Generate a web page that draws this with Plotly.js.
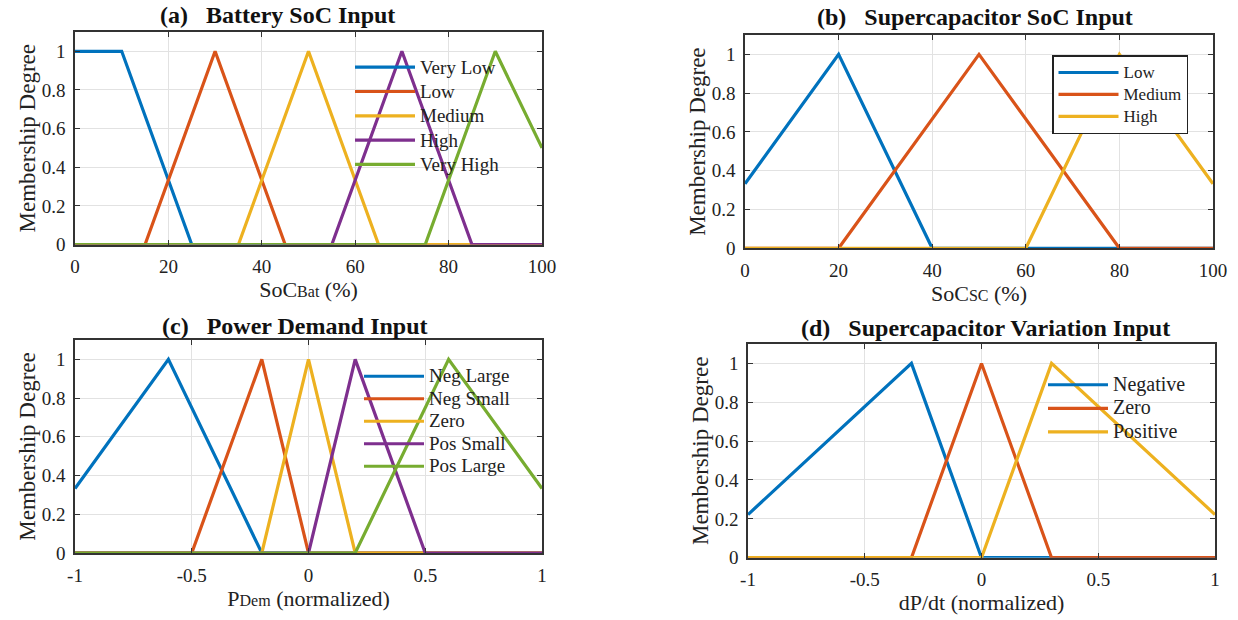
<!DOCTYPE html>
<html><head><meta charset="utf-8">
<script src="https://cdn.plot.ly/plotly-3.0.1.min.js"></script>
<style>html,body{margin:0;padding:0;background:#fff}#chart{width:1238px;height:620px}</style>
</head><body><div id="chart"></div>
<script>
// ---------- DATA ----------
// (a) Battery SoC input (%)
const batNames = ['Very Low', 'Low', 'Medium', 'High', 'Very High'];
const batVeryLowX = [0, 10, 25, 100];      const batVeryLowY = [1, 1, 0, 0];
const batLowX = [0, 15, 30, 45, 100];      const batLowY = [0, 0, 1, 0, 0];
const batMediumX = [0, 35, 50, 65, 100];   const batMediumY = [0, 0, 1, 0, 0];
const batHighX = [0, 55, 70, 85, 100];     const batHighY = [0, 0, 1, 0, 0];
const batVeryHighX = [0, 75, 90, 100];     const batVeryHighY = [0, 0, 1, 0.5];

// (b) Supercapacitor SoC input (%)
const scNames = ['Low', 'Medium', 'High'];
const scLowX = [0, 20, 40, 100];           const scLowY = [0.333, 1, 0, 0];
const scMediumX = [0, 20, 50, 80, 100];    const scMediumY = [0, 0, 1, 0, 0];
const scHighX = [0, 60, 80, 100];          const scHighY = [0, 0, 1, 0.333];

// (c) Power demand input (normalized)
const pdNames = ['Neg Large', 'Neg Small', 'Zero', 'Pos Small', 'Pos Large'];
const pdNegLargeX = [-1, -0.6, -0.2, 1];      const pdNegLargeY = [0.333, 1, 0, 0];
const pdNegSmallX = [-1, -0.5, -0.2, 0, 1];   const pdNegSmallY = [0, 0, 1, 0, 0];
const pdZeroX = [-1, -0.2, 0, 0.2, 1];        const pdZeroY = [0, 0, 1, 0, 0];
const pdPosSmallX = [-1, 0, 0.2, 0.5, 1];     const pdPosSmallY = [0, 0, 1, 0, 0];
const pdPosLargeX = [-1, 0.2, 0.6, 1];        const pdPosLargeY = [0, 0, 1, 0.333];

// (d) Supercapacitor variation input dP/dt (normalized)
const dvNames = ['Negative', 'Zero', 'Positive'];
const dvNegativeX = [-1, -0.3, 0, 1];         const dvNegativeY = [0.222, 1, 0, 0];
const dvZeroX = [-1, -0.3, 0, 0.3, 1];        const dvZeroY = [0, 0, 1, 0, 0];
const dvPositiveX = [-1, 0, 0.3, 1];          const dvPositiveY = [0, 0, 1, 0.222];

// ticks
const socTicks = [0, 20, 40, 60, 80, 100];
const socTickText = ['0', '20', '40', '60', '80', '100'];
const normTicks = [-1, -0.5, 0, 0.5, 1];
const normTickText = ['-1', '-0.5', '0', '0.5', '1'];
const degTicks = [0, 0.2, 0.4, 0.6, 0.8, 1];
const degTickText = ['0', '0.2', '0.4', '0.6', '0.8', '1'];

const panelTitles = ['(a)\u00A0\u00A0\u00A0Battery SoC Input', '(b)\u00A0\u00A0\u00A0Supercapacitor SoC Input',
                     '(c)\u00A0\u00A0\u00A0Power Demand Input', '(d)\u00A0\u00A0\u00A0Supercapacitor Variation Input'];
const xTitles = ['SoC<span style="font-size:16px">Bat</span> (%)', 'SoC<span style="font-size:16px">SC</span> (%)',
                 'P<span style="font-size:16px">Dem</span> (normalized)', 'dP/dt (normalized)'];
const yTitle = 'Membership Degree';

// ---------- STYLE ----------
const colors = ['#0072BD', '#D95319', '#EDB120', '#7E2F8E', '#77AC30'];
const FONT = 'Liberation Serif';
const W = 1238, H = 620;
const px = v => v / W, py = v => 1 - v / H;

function mk(xs, ys, names, ax, leg, labelSize) {
  return xs.map((x, i) => ({
    type: 'scatter', mode: 'lines', x: x, y: ys[i],
    name: '<span style="font-size:' + labelSize + 'px">' + names[i] + '</span>',
    xaxis: 'x' + ax, yaxis: 'y' + ax, legend: leg,
    line: {color: colors[i], width: 3.2},
    hovertemplate: names[i] + ': %{y:.2f}<extra></extra>'
  }));
}

const traces = [].concat(
  mk([batVeryLowX, batLowX, batMediumX, batHighX, batVeryHighX],
     [batVeryLowY, batLowY, batMediumY, batHighY, batVeryHighY], batNames, '', 'legend', 19),
  mk([scLowX, scMediumX, scHighX], [scLowY, scMediumY, scHighY], scNames, '2', 'legend2', 17),
  mk([pdNegLargeX, pdNegSmallX, pdZeroX, pdPosSmallX, pdPosLargeX],
     [pdNegLargeY, pdNegSmallY, pdZeroY, pdPosSmallY, pdPosLargeY], pdNames, '3', 'legend3', 19),
  mk([dvNegativeX, dvZeroX, dvPositiveX], [dvNegativeY, dvZeroY, dvPositiveY], dvNames, '4', 'legend4', 20)
);

// plot boxes in pixels [left, right, top, bottom]
const boxes = [[75, 542, 32, 244.5], [745, 1213, 35, 248.3], [75, 542, 340, 553], [748, 1215, 344, 557.7]];
const ranges = [[0, 100], [0, 100], [-1, 1], [-1, 1]];
const tv = [socTicks, socTicks, normTicks, normTicks];
const tt = [socTickText, socTickText, normTickText, normTickText];

const axBase = {
  showline: true, linecolor: '#333333', linewidth: 1.6, mirror: 'ticks',
  ticks: 'inside', ticklen: 5, tickcolor: '#333333', tickwidth: 1,
  showgrid: true, gridcolor: '#e2e2e2', gridwidth: 1, zeroline: false,
  tickfont: {family: FONT, size: 19, color: '#222'}, fixedrange: true
};

const layout = {
  width: W, height: H, margin: {l: 0, r: 0, t: 0, b: 0},
  paper_bgcolor: '#ffffff', plot_bgcolor: '#ffffff',
  font: {family: FONT, color: '#222'},
  annotations: [], hovermode: 'closest'
};

const titleCenters = [[277, 15], [975, 17], [295, 326], [986, 328]];
boxes.forEach((b, i) => {
  const s = i === 0 ? '' : String(i + 1);
  layout['xaxis' + s] = Object.assign({}, axBase, {
    domain: [px(b[0]), px(b[1])], anchor: 'y' + s, range: ranges[i],
    tickmode: 'array', tickvals: tv[i], ticktext: tt[i], ticklabelstandoff: 4,
    title: {text: xTitles[i], font: {family: FONT, size: 22, color: '#222'}, standoff: 2}
  });
  layout['yaxis' + s] = Object.assign({}, axBase, {
    domain: [py(b[3]), py(b[2])], anchor: 'x' + s, range: [0, 1.1],
    tickmode: 'array', tickvals: degTicks, ticktext: degTickText, ticklabelstandoff: 4,
    title: {text: yTitle, font: {family: FONT, size: 23, color: '#222'}, standoff: 0}
  });
  layout.annotations.push({
    text: '<b>' + panelTitles[i] + '</b>', xref: 'paper', yref: 'paper',
    x: px(titleCenters[i][0]), y: py(titleCenters[i][1]), xanchor: 'center', yanchor: 'middle',
    showarrow: false, font: {family: FONT, size: 24, color: '#111'}
  });
});

const legBase = {xanchor: 'left', yanchor: 'top', bgcolor: 'rgba(0,0,0,0)', borderwidth: 0,
                 itemwidth: 60, tracegroupgap: 0, itemclick: false, itemdoubleclick: false};
layout.legend = Object.assign({}, legBase, {x: px(350), y: py(50), font: {family: FONT, size: 16.4, color: '#222'}});
layout.legend2 = Object.assign({}, legBase, {x: px(1052), y: py(55), bgcolor: '#ffffff', bordercolor: '#222', borderwidth: 1.5,
                 font: {family: FONT, size: 14.6, color: '#222'}});
layout.legend3 = Object.assign({}, legBase, {x: px(359), y: py(360), font: {family: FONT, size: 15, color: '#222'}});
layout.legend4 = Object.assign({}, legBase, {x: px(1043), y: py(368), font: {family: FONT, size: 15.8, color: '#222'}});

Plotly.newPlot('chart', traces, layout, {displayModeBar: false});
</script></body></html>
